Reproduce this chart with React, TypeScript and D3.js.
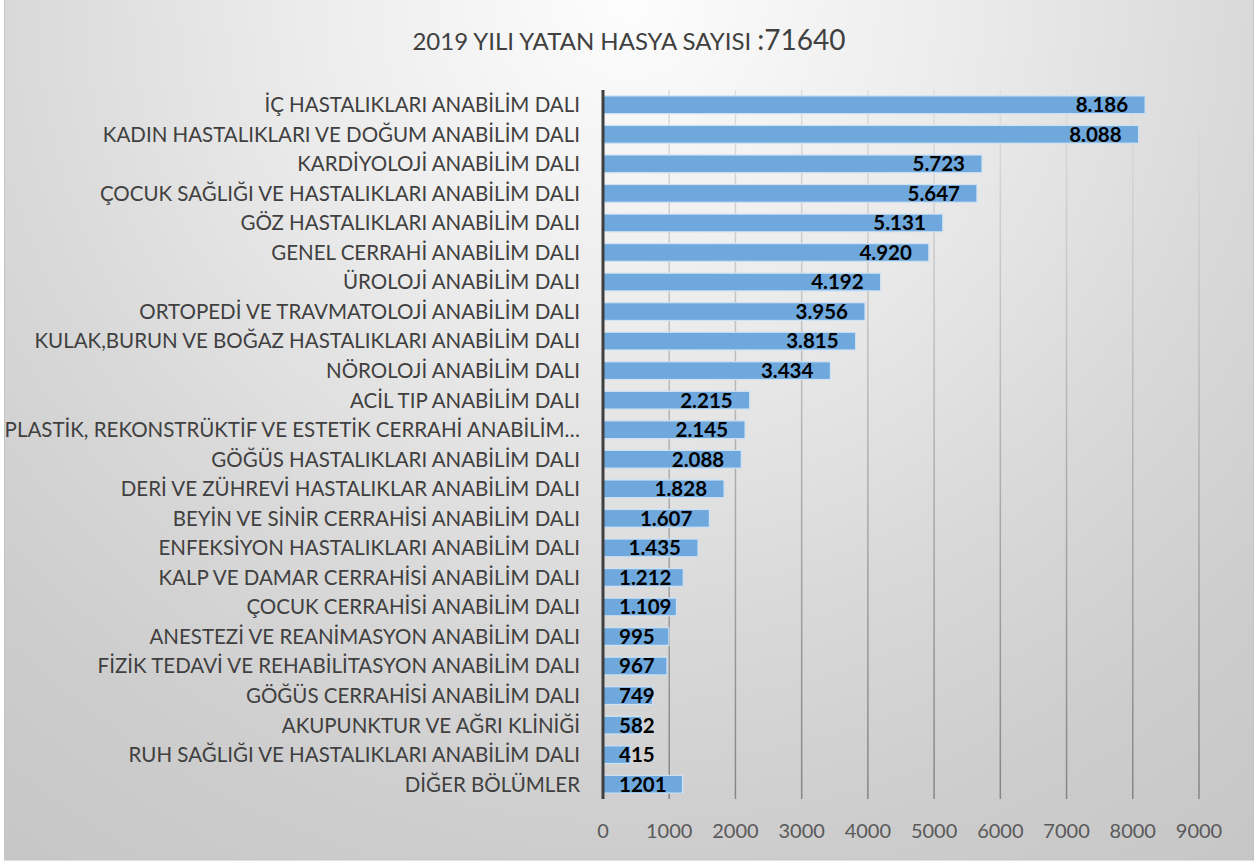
import { useRef, useEffect } from 'react'
import * as d3 from 'd3'

const departments = [
  'İÇ HASTALIKLARI ANABİLİM DALI',
  'KADIN HASTALIKLARI VE DOĞUM ANABİLİM DALI',
  'KARDİYOLOJİ ANABİLİM DALI',
  'ÇOCUK SAĞLIĞI VE HASTALIKLARI ANABİLİM DALI',
  'GÖZ HASTALIKLARI ANABİLİM DALI',
  'GENEL CERRAHİ ANABİLİM DALI',
  'ÜROLOJİ ANABİLİM DALI',
  'ORTOPEDİ VE TRAVMATOLOJİ ANABİLİM DALI',
  'KULAK,BURUN VE BOĞAZ HASTALIKLARI ANABİLİM DALI',
  'NÖROLOJİ ANABİLİM DALI',
  'ACİL TIP ANABİLİM DALI',
  'PLASTİK, REKONSTRÜKTİF VE ESTETİK CERRAHİ ANABİLİM…',
  'GÖĞÜS HASTALIKLARI ANABİLİM DALI',
  'DERİ VE ZÜHREVİ HASTALIKLAR ANABİLİM DALI',
  'BEYİN VE SİNİR CERRAHİSİ ANABİLİM DALI',
  'ENFEKSİYON HASTALIKLARI ANABİLİM DALI',
  'KALP VE DAMAR CERRAHİSİ ANABİLİM DALI',
  'ÇOCUK CERRAHİSİ ANABİLİM DALI',
  'ANESTEZİ VE REANİMASYON ANABİLİM DALI',
  'FİZİK TEDAVİ VE REHABİLİTASYON ANABİLİM DALI',
  'GÖĞÜS CERRAHİSİ ANABİLİM DALI',
  'AKUPUNKTUR VE AĞRI KLİNİĞİ',
  'RUH SAĞLIĞI VE HASTALIKLARI ANABİLİM DALI',
  'DİĞER BÖLÜMLER'
]

const patients = [
  8186, 8088, 5723, 5647, 5131, 4920, 4192, 3956, 3815, 3434, 2215, 2145,
  2088, 1828, 1607, 1435, 1212, 1109, 995, 967, 749, 582, 415, 1201
]

const valueLabels = [
  '8.186', '8.088', '5.723', '5.647', '5.131', '4.920', '4.192', '3.956',
  '3.815', '3.434', '2.215', '2.145', '2.088', '1.828', '1.607', '1.435',
  '1.212', '1.109', '995', '967', '749', '582', '415', '1201'
]

const xTicks = [0, 1000, 2000, 3000, 4000, 5000, 6000, 7000, 8000, 9000]

const titleText = '2019 YILI YATAN HASYA SAYISI '
const titleTotal = ':71640'

const FONT = 'Lato, "Open Sans", sans-serif'

function App() {
  const containerRef = useRef<HTMLDivElement>(null)

  useEffect(() => {
    if (!containerRef.current) return
    const container = containerRef.current
    container.innerHTML = ''

    const width = 1258
    const height = 863
    const plot = { left: 603, right: 1199, top: 90, bottom: 799 }

    const svg = d3.select(container)
      .append('svg')
      .attr('width', width)
      .attr('height', height)
      .style('position', 'absolute')
      .style('left', '0px')
      .style('top', '0px')

    const defs = svg.append('defs')

    const bg = defs.append('radialGradient')
      .attr('id', 'bg')
      .attr('gradientUnits', 'userSpaceOnUse')
      .attr('cx', 629).attr('cy', 0).attr('r', 1070)
    bg.append('stop').attr('offset', 0).attr('stop-color', '#fdfdfd')
    bg.append('stop').attr('offset', 0.3).attr('stop-color', '#ececec')
    bg.append('stop').attr('offset', 0.58).attr('stop-color', '#d9d9d9')
    bg.append('stop').attr('offset', 0.8).attr('stop-color', '#cdcdcd')
    bg.append('stop').attr('offset', 1).attr('stop-color', '#c6c6c6')

    const grid = defs.append('linearGradient')
      .attr('id', 'grid')
      .attr('gradientUnits', 'userSpaceOnUse')
      .attr('x1', 0).attr('y1', plot.top).attr('x2', 0).attr('y2', plot.bottom)
    grid.append('stop').attr('offset', 0).attr('stop-color', '#dedede')
    grid.append('stop').attr('offset', 1).attr('stop-color', '#858585')

    // background
    svg.append('rect')
      .attr('x', 4.5).attr('y', -1)
      .attr('width', 1249).attr('height', 861)
      .attr('fill', 'url(#bg)')
      .attr('stroke', '#c4c4c4')

    const x = d3.scaleLinear()
      .domain([0, 9000])
      .range([plot.left, plot.right])

    const y = d3.scaleBand<string>()
      .domain(departments)
      .range([plot.top, plot.bottom])
      .paddingInner(0.4)
      .paddingOuter(0.2)

    // title
    const title = svg.append('text')
      .attr('x', 629)
      .attr('y', 50)
      .attr('text-anchor', 'middle')
      .attr('font-family', FONT)
      .attr('fill', '#404040')
    title.append('tspan').attr('font-size', '24px').text(titleText)
    title.append('tspan').attr('font-size', '28px').text(titleTotal)

    // vertical gridlines
    svg.selectAll('line.grid')
      .data(xTicks.filter(t => t > 0))
      .enter()
      .append('line')
      .attr('class', 'grid')
      .attr('x1', d => x(d)).attr('x2', d => x(d))
      .attr('y1', plot.top).attr('y2', plot.bottom)
      .attr('stroke', 'url(#grid)')
      .attr('stroke-width', 1.5)

    // x tick labels
    svg.selectAll('text.tick')
      .data(xTicks)
      .enter()
      .append('text')
      .attr('class', 'tick')
      .attr('x', d => x(d))
      .attr('y', 838)
      .attr('text-anchor', 'middle')
      .attr('font-family', FONT)
      .attr('font-size', '20px')
      .attr('fill', '#595959')
      .text(d => String(d))

    // category labels
    svg.selectAll('text.cat')
      .data(departments)
      .enter()
      .append('text')
      .attr('class', 'cat')
      .attr('x', 580)
      .attr('y', d => y(d)! + y.bandwidth() / 2)
      .attr('dy', '0.36em')
      .attr('text-anchor', 'end')
      .attr('font-family', FONT)
      .attr('font-size', '20.5px')
      .attr('fill', '#404040')
      .text(d => d)

    // bars
    svg.selectAll('rect.bar')
      .data(departments)
      .enter()
      .append('rect')
      .attr('class', 'bar')
      .attr('x', x(0))
      .attr('y', d => y(d)!)
      .attr('width', (_, i) => x(patients[i]) - x(0))
      .attr('height', y.bandwidth())
      .attr('fill', '#6fa8dc')
      .attr('stroke', '#cfe2f3')
      .attr('stroke-width', 1.2)

    // axis line at zero
    svg.append('line')
      .attr('x1', x(0)).attr('x2', x(0))
      .attr('y1', plot.top).attr('y2', plot.bottom)
      .attr('stroke', '#404040')
      .attr('stroke-width', 3)

    // value labels: inside end, pushed right if they do not fit
    const labels = svg.selectAll('text.val')
      .data(departments)
      .enter()
      .append('text')
      .attr('class', 'val')
      .attr('y', d => y(d)! + y.bandwidth() / 2)
      .attr('dy', '0.36em')
      .attr('text-anchor', 'end')
      .attr('font-family', FONT)
      .attr('font-size', '20.5px')
      .attr('font-weight', 'bold')
      .attr('fill', '#000')
      .text((_, i) => valueLabels[i])

    labels.each(function (_, i) {
      const node = this as SVGTextElement
      const w = node.getComputedTextLength()
      const right = Math.max(x(patients[i]) - 17, x(0) + 16 + w)
      d3.select(node).attr('x', right)
    })
  }, [])

  return <div ref={containerRef} />
}

export default App
